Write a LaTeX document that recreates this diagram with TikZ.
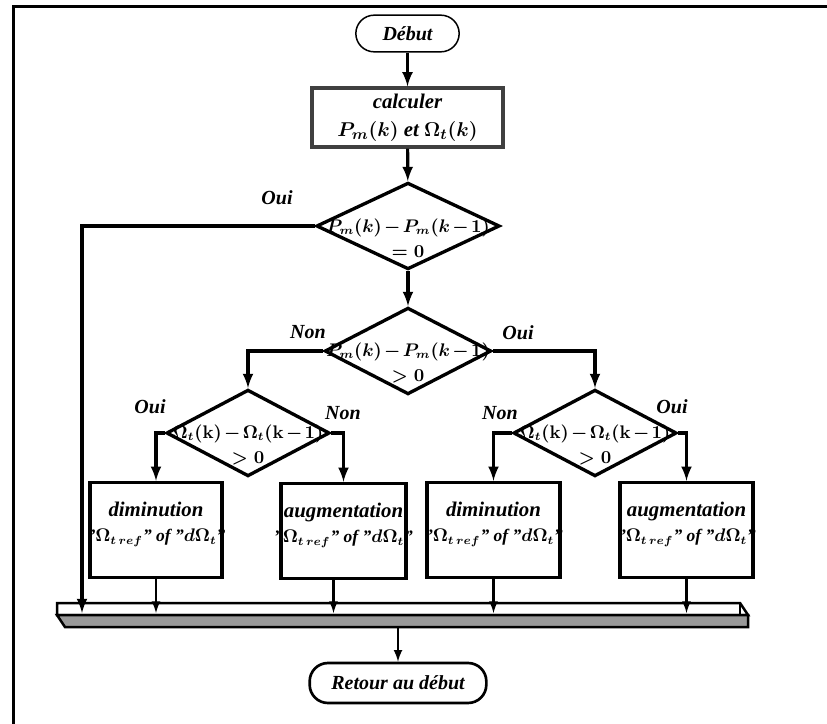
\documentclass[tikz,border=0pt]{standalone}
\usepackage{fontspec}
\setmainfont{Liberation Serif}
\usepackage{amsmath}
\usetikzlibrary{shapes,arrows,calc}
\newcommand{\moins}{\mskip2mu{-}\mskip2mu}

\begin{document}
\begin{tikzpicture}[x=0.6pt,y=-0.6pt]
\tikzset{conn/.style={line width=1.9pt,-latex}, thinconn/.style={line width=1.4pt,-latex}}
\tikzset{decision/.style={diamond, draw, line width=2pt, fill=white, inner sep=0pt, minimum width=#1, minimum height=52pt}}
\tikzset{dtext/.style={align=center, inner sep=0pt, yshift=-7pt, font={\fontsize{10.5}{15}\selectfont\boldmath}}}
\tikzset{action/.style={rectangle, draw, line width=2.1pt, fill=white, minimum width=#1, minimum height=57pt, inner sep=0pt}}
\tikzset{atext/.style={align=center, inner sep=0pt, yshift=3.5pt, font={\fontsize{12.5}{15}\selectfont\bfseries\itshape\boldmath}}}
\tikzset{terminal/.style={rectangle, rounded corners=11pt, draw, align=center}}
\tikzstyle{every node}=[font={\fontsize{12}{14}\selectfont\bfseries\itshape}]
\useasboundingbox (0,0) rectangle (827,724);
\draw[line width=1.8pt] (827,7) -- (13,7) -- (13,724);

\node[terminal, line width=0.9pt, minimum width=62pt, minimum height=22pt, font=\large\bfseries\itshape] (debut) at (407.5,33.5) {D\'ebut};
\node[rectangle, draw=black!75, line width=2.4pt, fill=white, align=center, minimum width=115pt, minimum height=35pt, inner sep=1pt, font={\fontsize{12.5}{17}\selectfont\boldmath\bfseries\itshape}] (calc) at (407.5,117.5) {calculer\\ $P_m(k)$ et $\Omega_t(k)$};
\node[decision=110pt, label={[dtext]center:{$P_m(k)\moins P_m(k\moins 1)$\\ $=0$}}] (d1) at (408,226) {};
\node[decision=100pt, label={[dtext]center:{$P_m(k)\moins P_m(k\moins 1)$\\ $>0$}}] (d2) at (408,351) {};
\node[decision=98pt, label={[dtext]center:{$\Omega_t(\mathbf{k})\moins\Omega_t(\mathbf{k}\moins 1)$\\ $>0$}}] (d3) at (248,433) {};
\node[decision=98pt, label={[dtext]center:{$\Omega_t(\mathbf{k})\moins\Omega_t(\mathbf{k}\moins 1)$\\ $>0$}}] (d4) at (595,433) {};

\node[action=79pt, label={[atext]center:{diminution\\ {\fontsize{10.5}{15}\selectfont"$\Omega_{t\,ref}$" of "$d\Omega_t$"}}}] (b1) at (156,530) {};
\node[action=75pt, label={[atext]center:{augmentation\\ {\fontsize{10.5}{15}\selectfont"$\Omega_{t\,ref}$" of "$d\Omega_t$"}}}] (b2) at (343.5,531) {};
\node[action=80pt, label={[atext]center:{diminution\\ {\fontsize{10.5}{15}\selectfont"$\Omega_{t\,ref}$" of "$d\Omega_t$"}}}] (b3) at (493.5,530) {};
\node[action=80pt, label={[atext]center:{augmentation\\ {\fontsize{10.5}{15}\selectfont"$\Omega_{t\,ref}$" of "$d\Omega_t$"}}}] (b4) at (686.5,530) {};

\node[terminal, line width=1.6pt, minimum width=106pt, minimum height=24pt, font=\large\bfseries\itshape] (fin) at (398,683) {Retour au d\'ebut};

% barre de retour
\draw[line width=1.5pt, fill=white] (57,603) -- (740,603) -- (748,615) -- (57,615) -- cycle;
\draw[line width=1.5pt, fill=black!40] (57,615) -- (748,615) -- (748,627) -- (65,627) -- cycle;
\draw[line width=1pt] (740,603) -- (740,615);
\coordinate (bus) at (400,613);
\coordinate (busout) at (398,627);
\coordinate (gauche) at (82,613);

\node (oui1) at (277,198) {Oui};
\node (non2) at (308,332) {Non};
\node (oui2) at (518,333) {Oui};
\node (oui3) at (150,407) {Oui};
\node (non3) at (343,413) {Non};
\node (non4) at (500,413) {Non};
\node (oui4) at (672,407) {Oui};

\draw[conn] (debut) -- (calc);
\draw[conn] (calc) -- (d1);
\draw[conn] (d1) -- (d2);
\draw[conn] (d1.west) -| (gauche);
\draw[conn] (d2.west) -| (d3.north);
\draw[conn] (d2.east) -| (d4.north);
\draw[conn] (d3.west) -| (b1.north);
\draw[conn] (d3.east) -| (b2.north);
\draw[conn] (d4.west) -| (b3.north);
\draw[conn] (d4.east) -| (b4.north);
\draw[thinconn] (b1) -- (b1 |- bus);
\draw[thinconn] ([xshift=-6pt]b2.south) -- ([xshift=-6pt]b2.south |- bus);
\draw[thinconn] (b3) -- (b3 |- bus);
\draw[thinconn] (b4) -- (b4 |- bus);
\draw[thinconn] (busout) -- (fin);
\end{tikzpicture}
\end{document}
